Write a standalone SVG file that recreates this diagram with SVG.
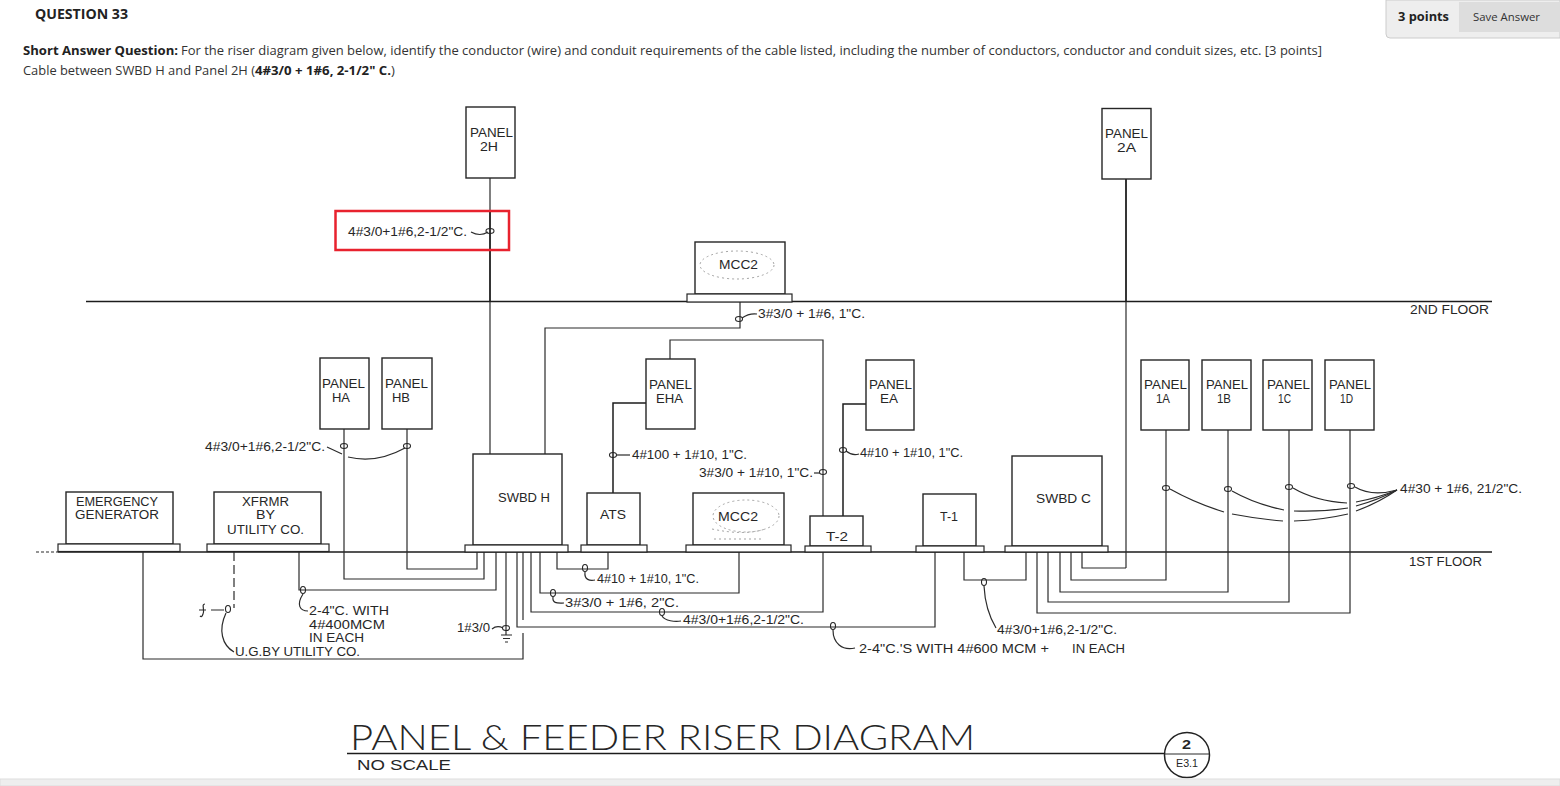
<svg xmlns="http://www.w3.org/2000/svg" width="1560" height="786" viewBox="0 0 1560 786">
<style>
text{font-family:"Liberation Sans",Arial,sans-serif;font-size:12.5px;fill:#262626}
.ui{font-family:"Open Sans","Noto Sans",sans-serif;font-size:13px;fill:#333}
.b{font-weight:700;fill:#222}
.box{fill:#fff;stroke:#262626;stroke-width:1.4}
.base{fill:#fff;stroke:#262626;stroke-width:1.2}
.w{fill:none;stroke:#2b2b2b;stroke-width:1.2}
.h{fill:none;stroke:#1c1c1c;stroke-width:1.5}
.o{fill:none;stroke:#262626;stroke-width:1.1}
.dot{fill:none;stroke:#999;stroke-width:.9;stroke-dasharray:2 3}
</style>
<rect width="1560" height="786" fill="#fff"/>
<g id="page-header">
<path d="M1386 0H1560V38H1390Q1386 38 1386 34Z" fill="#eee" stroke="#ccc"/>
<rect x="1459" y="2" width="100" height="30" fill="#ddd"/>
<text class="ui b" x="1398" y="21" textLength="51" lengthAdjust="spacingAndGlyphs">3 points</text>
<text class="ui" x="1473" y="21" style="font-size:11px" textLength="67" lengthAdjust="spacingAndGlyphs">Save Answer</text>
<text class="ui b" x="35" y="19" style="font-size:14px" textLength="93" lengthAdjust="spacingAndGlyphs">QUESTION 33</text>
<text class="ui b" x="23" y="55" textLength="155" lengthAdjust="spacingAndGlyphs">Short Answer Question:</text>
<text class="ui" x="181" y="55" textLength="1141" lengthAdjust="spacingAndGlyphs">For the riser diagram given below, identify the conductor (wire) and conduit requirements of the cable listed, including the number of conductors, conductor and conduit sizes, etc. [3 points]</text>
<text class="ui" x="23" y="75" textLength="232" lengthAdjust="spacingAndGlyphs">Cable between SWBD H and Panel 2H (</text>
<text class="ui b" x="255" y="75" textLength="136" lengthAdjust="spacingAndGlyphs">4#3/0 + 1#6, 2-1/2" C.</text>
<text class="ui" x="391" y="75">)</text>
</g>
<g id="connectors">
<path class="w" d="M36 552H58" stroke-dasharray="3 2"/>
<path class="h" d="M58 552H1492M86 301.500H1492"/>
<path class="w" d="M490 178V454"/>
<path class="h" d="M490 211V302"/>
<path class="w" d="M1126 179V568"/>
<path class="h" d="M1126 179V302"/>
<path class="w" d="M740 302V328H545V454"/>
<path class="w" d="M670 359V340H823V516"/>
<path class="h" d="M646 403H613V493"/>
<path class="h" d="M866 404H843V516"/>
<path class="w" d="M344 429V579H484V552"/>
<path class="w" d="M407 429V569H477V552"/>
<path class="w" d="M143 552V659H523V633"/>
<path class="w" d="M523 620V552"/>
<path class="w" d="M299 552V590H496V552"/>
<path class="w" d="M234 552V608" stroke-dasharray="9 4"/>
<path class="w" d="M506 552V635"/>
<path class="w" d="M501 635H512M503 638.500H510M505 642H508"/>
<path class="w" d="M517 552V627H935V552"/>
<path class="w" d="M531 552V612H823V552"/>
<path class="w" d="M540 552V593H739V552"/>
<path class="w" d="M557 552V569H608V552"/>
<path class="w" d="M964 552V580H1026V552"/>
<path class="w" d="M1037 552V613H1350V430"/>
<path class="w" d="M1048 552V602H1289V430"/>
<path class="w" d="M1060 552V592H1228V430"/>
<path class="w" d="M1071 552V580H1166V430"/>
<path class="w" d="M1082 552V568H1126"/>
<g class="leaders">
<ellipse class="o" cx="490" cy="231" rx="4" ry="2.500"/>
<path class="w" d="M471 232Q480 237 488 232"/>
<ellipse class="o" cx="344" cy="446" rx="3.500" ry="2.500"/>
<path class="w" d="M327 447L342 454M348 457Q376 464 405 448"/>
<ellipse class="o" cx="407" cy="446" rx="3.500" ry="2.500"/>
<ellipse class="o" cx="303" cy="590" rx="2.500" ry="3.500"/>
<path class="w" d="M303 594C296 605 300 611 308 611"/>
<ellipse class="o" cx="228" cy="609" rx="2.500" ry="3.500"/>
<path class="w" d="M226 613C218 630 222 645 234 652"/>
<path class="w" d="M205 604C201 604 205 610 203 614C202 617 201 617 200 616M199 610H206M211 610H224"/>
<ellipse class="o" cx="506" cy="628" rx="3.500" ry="2.500"/>
<path class="w" d="M492 629Q497 625 503 628"/>
<ellipse class="o" cx="585" cy="568" rx="2.500" ry="3.500"/>
<path class="w" d="M585 572C584 580 590 581 595 580"/>
<ellipse class="o" cx="553" cy="593" rx="2.500" ry="3.500"/>
<path class="w" d="M553 597C552 604 558 603 564 603"/>
<ellipse class="o" cx="662" cy="612" rx="2.500" ry="3.500"/>
<path class="w" d="M662 616C665 621 675 622 681 621"/>
<ellipse class="o" cx="833" cy="626" rx="2.500" ry="3.500"/>
<path class="w" d="M833 630C833 643 842 651 855 648"/>
<ellipse class="o" cx="984" cy="582" rx="2.500" ry="3.500"/>
<path class="w" d="M984 586C985 605 990 618 996 628"/>
<ellipse class="o" cx="739" cy="319" rx="3.500" ry="2.500"/>
<path class="w" d="M742 318Q749 313 757 314"/>
<ellipse class="o" cx="613" cy="455" rx="3.500" ry="2.500"/>
<path class="w" d="M617 455H630"/>
<ellipse class="o" cx="823" cy="472" rx="3.500" ry="2.500"/>
<path class="w" d="M814 473H820"/>
<ellipse class="o" cx="843" cy="450" rx="3.500" ry="2.500"/>
<path class="w" d="M846 451Q852 456 859 454"/>
<ellipse class="o" cx="1166" cy="488" rx="3.500" ry="2.500"/>
<ellipse class="o" cx="1228" cy="489" rx="3.500" ry="2.500"/>
<ellipse class="o" cx="1289" cy="487" rx="3.500" ry="2.500"/>
<ellipse class="o" cx="1351" cy="486" rx="3.500" ry="2.500"/>
<path class="w" d="M1170 489Q1195 503 1224 512M1232 514Q1258 519 1283 521M1294 521Q1322 520 1348 514M1356 511Q1378 503 1397 490"/>
<path class="w" d="M1232 491Q1255 504 1284 510M1294 511Q1322 512 1348 508M1356 506Q1378 500 1397 490"/>
<path class="w" d="M1293 488Q1315 501 1347 503M1356 502Q1378 498 1397 490"/>
<path class="w" d="M1355 487Q1372 497 1397 490"/>
</g>
</g>
<g id="panel-2h"><rect class="box" x="466" y="107" width="49" height="71"/><text x="470" y="137" textLength="43" lengthAdjust="spacingAndGlyphs">PANEL</text><text x="480" y="151" textLength="18" lengthAdjust="spacingAndGlyphs">2H</text></g>
<g id="panel-2a"><rect class="box" x="1102" y="108.500" width="49" height="70.500"/><text x="1105" y="138" textLength="43" lengthAdjust="spacingAndGlyphs">PANEL</text><text x="1117" y="152" textLength="19" lengthAdjust="spacingAndGlyphs">2A</text></g>
<g id="mcc2-upper"><rect class="box" x="695" y="242" width="90" height="52"/><rect class="base" x="687" y="294" width="105" height="8"/><ellipse class="dot" cx="737" cy="265" rx="37" ry="14"/><text x="719" y="269" textLength="39" lengthAdjust="spacingAndGlyphs">MCC2</text></g>
<g id="panel-ha"><rect class="box" x="320" y="358" width="49" height="71"/><text x="322" y="388" textLength="43" lengthAdjust="spacingAndGlyphs">PANEL</text><text x="332" y="402" textLength="18" lengthAdjust="spacingAndGlyphs">HA</text></g>
<g id="panel-hb"><rect class="box" x="382" y="358" width="50" height="71"/><text x="385" y="388" textLength="43" lengthAdjust="spacingAndGlyphs">PANEL</text><text x="392" y="402" textLength="18" lengthAdjust="spacingAndGlyphs">HB</text></g>
<g id="panel-eha"><rect class="box" x="646" y="359" width="49" height="70"/><text x="649" y="389" textLength="43" lengthAdjust="spacingAndGlyphs">PANEL</text><text x="656" y="403" textLength="27" lengthAdjust="spacingAndGlyphs">EHA</text></g>
<g id="panel-ea"><rect class="box" x="866" y="360" width="48" height="70"/><text x="869" y="389" textLength="43" lengthAdjust="spacingAndGlyphs">PANEL</text><text x="880" y="403" textLength="18" lengthAdjust="spacingAndGlyphs">EA</text></g>
<g id="panel-1a"><rect class="box" x="1141" y="360" width="48" height="70"/><text x="1144" y="389" textLength="43" lengthAdjust="spacingAndGlyphs">PANEL</text><text x="1156" y="403" textLength="14" lengthAdjust="spacingAndGlyphs">1A</text></g>
<g id="panel-1b"><rect class="box" x="1202" y="360" width="49" height="70"/><text x="1206" y="389" textLength="42" lengthAdjust="spacingAndGlyphs">PANEL</text><text x="1217" y="403" textLength="14" lengthAdjust="spacingAndGlyphs">1B</text></g>
<g id="panel-1c"><rect class="box" x="1263" y="360" width="49" height="70"/><text x="1267" y="389" textLength="43" lengthAdjust="spacingAndGlyphs">PANEL</text><text x="1278" y="403" textLength="13" lengthAdjust="spacingAndGlyphs">1C</text></g>
<g id="panel-1d"><rect class="box" x="1325" y="360" width="49" height="70"/><text x="1329" y="389" textLength="42" lengthAdjust="spacingAndGlyphs">PANEL</text><text x="1340" y="403" textLength="13" lengthAdjust="spacingAndGlyphs">1D</text></g>
<g id="emergency-generator"><rect class="box" x="66" y="492" width="107" height="52"/><rect class="base" x="58" y="544" width="122" height="7.500"/><text x="76" y="506" textLength="82" lengthAdjust="spacingAndGlyphs">EMERGENCY</text><text x="75" y="519" textLength="84" lengthAdjust="spacingAndGlyphs">GENERATOR</text></g>
<g id="xfrmr"><rect class="box" x="214" y="492" width="107" height="52"/><rect class="base" x="207" y="544" width="122" height="7.500"/><text x="242" y="506" textLength="47" lengthAdjust="spacingAndGlyphs">XFRMR</text><text x="256" y="519" textLength="19" lengthAdjust="spacingAndGlyphs">BY</text><text x="227" y="534" textLength="77" lengthAdjust="spacingAndGlyphs">UTILITY CO.</text></g>
<g id="swbd-h"><rect class="box" x="473" y="454" width="89" height="91"/><rect class="base" x="465" y="545" width="103" height="7"/><text x="498" y="502" textLength="52" lengthAdjust="spacingAndGlyphs">SWBD H</text></g>
<g id="ats"><rect class="box" x="587" y="493" width="53" height="52"/><rect class="base" x="581" y="545" width="66" height="7"/><text x="600" y="519" textLength="26" lengthAdjust="spacingAndGlyphs">ATS</text></g>
<g id="mcc2-lower"><rect class="box" x="693" y="493" width="91" height="52"/><rect class="base" x="686" y="545" width="105" height="7"/><ellipse class="dot" cx="746" cy="516" rx="33" ry="16"/><path class="dot" d="M712 529Q745 536 765 529M714 539H762"/><text x="718" y="521" textLength="40" lengthAdjust="spacingAndGlyphs">MCC2</text></g>
<g id="t-2"><rect class="box" x="810" y="516" width="53" height="30"/><rect class="base" x="805" y="546" width="66" height="6"/><text x="826" y="541" textLength="22" lengthAdjust="spacingAndGlyphs">T-2</text></g>
<g id="t-1"><rect class="box" x="923" y="494" width="53" height="52"/><rect class="base" x="916" y="546" width="68" height="6"/><text x="940" y="521" textLength="18" lengthAdjust="spacingAndGlyphs">T-1</text></g>
<g id="swbd-c"><rect class="box" x="1012" y="456" width="90" height="90"/><rect class="base" x="1005" y="546" width="103" height="6"/><text x="1036" y="503" textLength="55" lengthAdjust="spacingAndGlyphs">SWBD C</text></g>
<g id="labels">
<rect x="335.500" y="211" width="173.500" height="39" fill="none" stroke="#e8222e" stroke-width="2.500"/>
<text x="348" y="236" textLength="119" lengthAdjust="spacingAndGlyphs">4#3/0+1#6,2-1/2"C.</text>
<text x="758" y="318" textLength="107" lengthAdjust="spacingAndGlyphs">3#3/0 + 1#6, 1"C.</text>
<text x="1410" y="314" textLength="79" lengthAdjust="spacingAndGlyphs">2ND FLOOR</text>
<text x="1409" y="566" textLength="73" lengthAdjust="spacingAndGlyphs">1ST FLOOR</text>
<text x="205" y="451" textLength="120" lengthAdjust="spacingAndGlyphs">4#3/0+1#6,2-1/2"C.</text>
<text x="632" y="459" textLength="115" lengthAdjust="spacingAndGlyphs">4#100 + 1#10, 1"C.</text>
<text x="699" y="477" textLength="114" lengthAdjust="spacingAndGlyphs">3#3/0 + 1#10, 1"C.</text>
<text x="860" y="457" textLength="103" lengthAdjust="spacingAndGlyphs">4#10 + 1#10, 1"C.</text>
<text x="1400" y="493" textLength="122" lengthAdjust="spacingAndGlyphs">4#30 + 1#6, 21/2"C.</text>
<text x="309" y="615" textLength="80" lengthAdjust="spacingAndGlyphs">2-4"C. WITH</text>
<text x="309" y="629" textLength="76" lengthAdjust="spacingAndGlyphs">4#400MCM</text>
<text x="309" y="642" textLength="55" lengthAdjust="spacingAndGlyphs">IN EACH</text>
<text x="235" y="656" textLength="125" lengthAdjust="spacingAndGlyphs">U.G.BY UTILITY CO.</text>
<text x="457" y="632" textLength="33" lengthAdjust="spacingAndGlyphs">1#3/0</text>
<text x="597" y="583" textLength="102" lengthAdjust="spacingAndGlyphs">4#10 + 1#10, 1"C.</text>
<text x="565" y="607" textLength="114" lengthAdjust="spacingAndGlyphs">3#3/0 + 1#6, 2"C.</text>
<text x="683" y="624" textLength="121" lengthAdjust="spacingAndGlyphs">4#3/0+1#6,2-1/2"C.</text>
<text x="997" y="634" textLength="120" lengthAdjust="spacingAndGlyphs">4#3/0+1#6,2-1/2"C.</text>
<text x="859" y="653" textLength="190" lengthAdjust="spacingAndGlyphs">2-4"C.'S WITH 4#600 MCM +</text>
<text x="1072" y="653" textLength="53" lengthAdjust="spacingAndGlyphs">IN EACH</text>
</g>
<g id="title-block">
<text x="350" y="750" style="font-family:Lato,'Liberation Sans',sans-serif;font-size:36px;font-weight:300" textLength="625" lengthAdjust="spacingAndGlyphs">PANEL &amp; FEEDER RISER DIAGRAM</text>
<path class="h" d="M347 753.500H1169"/>
<text x="357" y="770" style="font-size:15px" textLength="94" lengthAdjust="spacingAndGlyphs">NO SCALE</text>
<circle cx="1187" cy="755" r="22.500" fill="#fff" stroke="#222" stroke-width="1.500"/>
<path class="w" d="M1165 754H1209"/>
<text x="1182" y="749" style="font-weight:700" textLength="9" lengthAdjust="spacingAndGlyphs">2</text>
<text x="1176" y="767" style="font-size:11px" textLength="22" lengthAdjust="spacingAndGlyphs">E3.1</text>
</g>
<rect id="page-footer" x="0" y="779" width="1560" height="7" fill="#eee" stroke="#ddd"/>
</svg>
